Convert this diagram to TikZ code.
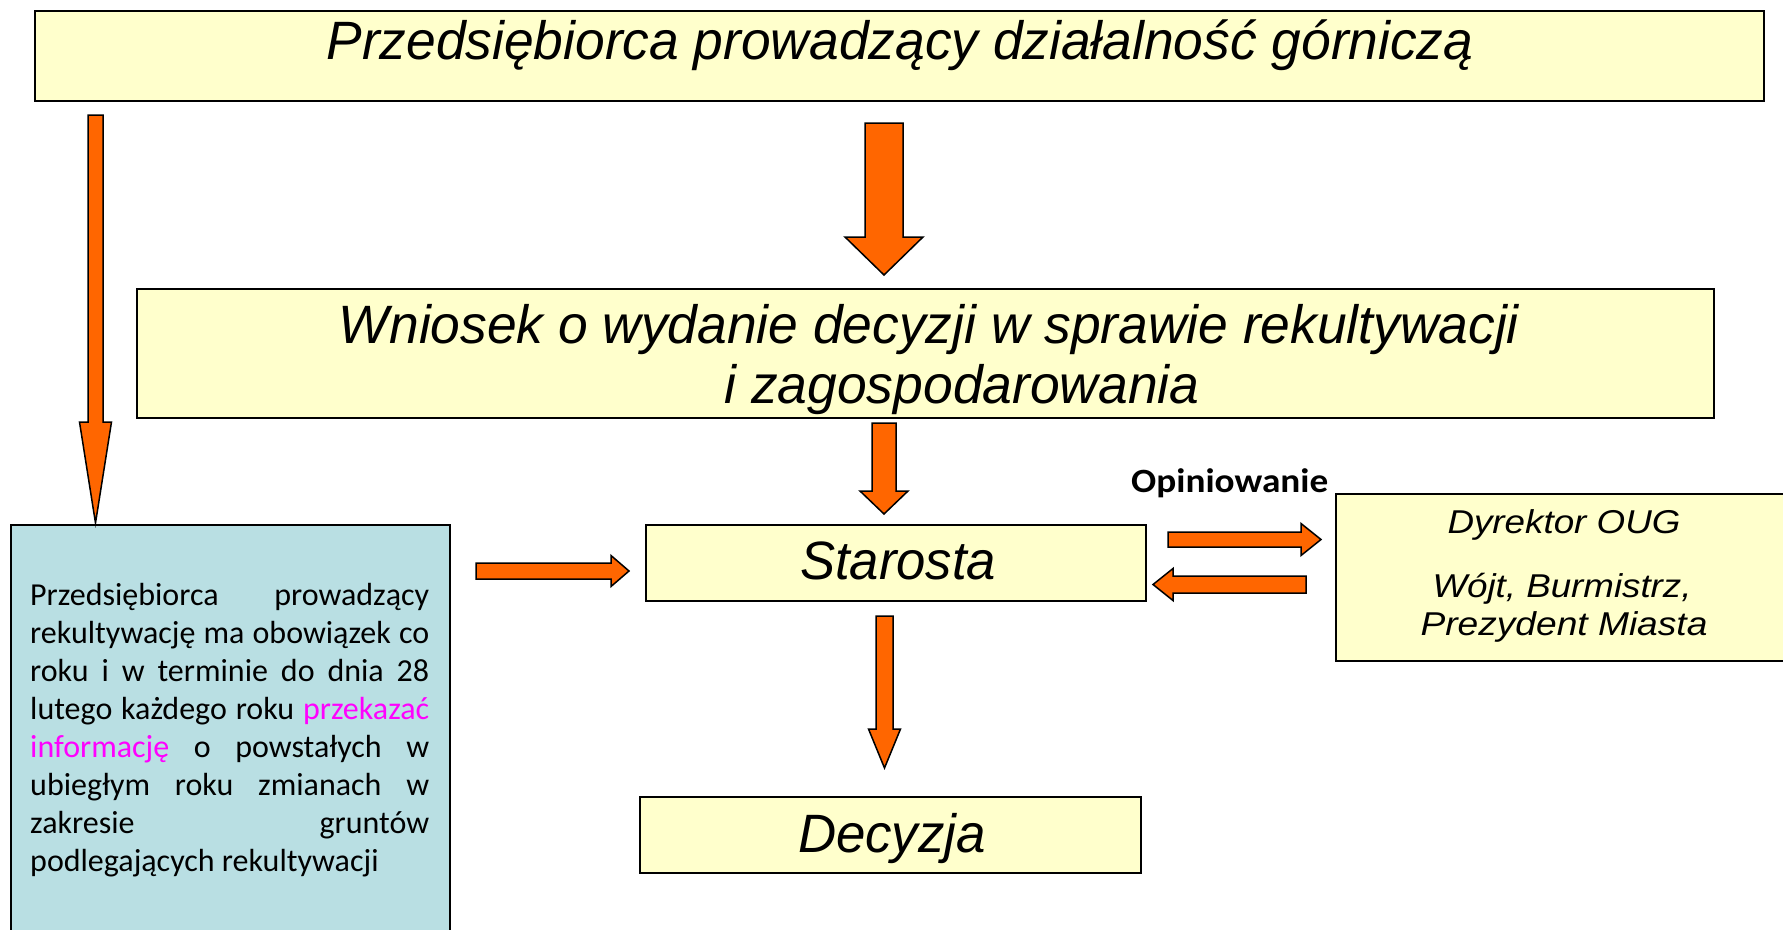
\documentclass[tikz,border=0pt]{standalone}
\usepackage{fontspec}
\setmainfont{Liberation Sans}
\newfontfamily\calib{Carlito}
\usepackage{graphicx}
\definecolor{boxyellow}{RGB}{255,255,204}
\definecolor{arroworange}{RGB}{255,102,0}
\definecolor{infocyan}{RGB}{185,223,227}
\definecolor{hotmagenta}{RGB}{255,0,255}
\newcommand\fitw[2]{\resizebox{#1pt}{\height}{#2}}
\newcommand\blkarrowv[6]{% cx, top, headstart, tip, shaft half, head half
  \draw[blockarrow] (#1-#5,#2) -- (#1+#5,#2) -- (#1+#5,#3) -- (#1+#6,#3) -- (#1,#4) -- (#1-#6,#3) -- (#1-#5,#3) -- cycle;}
\newcommand\blkarrowh[6]{% cy, tail, headbase, tip, shaft half, head half
  \draw[blockarrow] (#2,#1-#5) -- (#3,#1-#5) -- (#3,#1-#6) -- (#4,#1) -- (#3,#1+#6) -- (#3,#1+#5) -- (#2,#1+#5) -- cycle;}
\tikzset{
  ybox/.style={draw=black, line width=2pt, fill=boxyellow, inner sep=0pt, anchor=north west},
  cbox/.style={draw=black, line width=2pt, fill=infocyan, inner sep=0pt, anchor=north west},
  blockarrow/.style={draw=black, line width=1.5pt, fill=arroworange, line join=miter},
  bigtxt/.style={anchor=base, inner sep=0pt, font=\itshape\fontsize{54}{60}\selectfont},
  midtxt/.style={anchor=base, inner sep=0pt, font=\itshape\fontsize{33}{38}\selectfont}
}
\begin{document}
\begin{tikzpicture}[x=1pt,y=-1pt]
\useasboundingbox (0,0) rectangle (1783,929);
\clip (0,0) rectangle (1783,929);
% boxes
\node[ybox, minimum width=1729pt, minimum height=90pt] (top) at (34,10) {};
\node[ybox, minimum width=1577pt, minimum height=129pt] (wniosek) at (136,288) {};
\node[cbox, minimum width=439pt, minimum height=430pt] (info) at (10,524) {};
\node[ybox, minimum width=500pt, minimum height=76pt] (starosta) at (645,524) {};
\node[ybox, minimum width=501pt, minimum height=76pt] (decyzja) at (639,796) {};
\node[ybox, minimum width=470pt, minimum height=167pt] (oug) at (1335,493) {};
% texts
\node[bigtxt] (toptxt) at (900,59) {\fitw{1147}{Przedsiębiorca prowadzący działalność górniczą}};
\node[bigtxt] (wn1) at (929,343) {\fitw{1180}{Wniosek o wydanie decyzji w sprawie rekultywacji}};
\node[bigtxt] (wn2) at (962,403) {\fitw{475}{i zagospodarowania}};
\node[bigtxt] (startxt) at (898,579) {\fitw{196}{Starosta}};
\node[bigtxt] (dectxt) at (892,852) {\fitw{188}{Decyzja}};
\node[midtxt] (oug1) at (1564,533) {\fitw{233}{Dyrektor OUG}};
\node[midtxt] (oug2) at (1562,597) {\fitw{259}{Wójt, Burmistrz,}};
\node[midtxt] (oug3) at (1564,635) {\fitw{287}{Prezydent Miasta}};
\node[anchor=base west, inner sep=0pt, font=\calib\bfseries\fontsize{34}{40}\selectfont] (opin) at (1131,492) {\fitw{197}{Opiniowanie}};
\node[anchor=base west, inner sep=0pt] (infotxt) at (30,605) {\vtop{\hsize=399pt\parindent=0pt\calib\fontsize{32}{38}\selectfont
\makebox[399pt][s]{Przedsiębiorca prowadzący}\par
\makebox[399pt][s]{rekultywację ma obowiązek co}\par
\makebox[399pt][s]{roku i w terminie do dnia 28}\par
\makebox[399pt][s]{lutego każdego roku \textcolor{hotmagenta}{przekazać}}\par
\makebox[399pt][s]{\textcolor{hotmagenta}{informację} o powstałych w}\par
\makebox[399pt][s]{ubiegłym roku zmianach w}\par
\makebox[399pt][s]{zakresie gruntów}\par
podlegających rekultywacji}};
% block arrows
\blkarrowv{884}{123}{237}{275}{19}{39}
\blkarrowv{95.5}{115}{422}{523}{7.5}{16}
\blkarrowv{884}{423}{491}{514}{12}{24}
\blkarrowv{884.5}{616}{729}{768}{8.5}{16}
\blkarrowh{571}{476}{611}{629}{8}{15.5}
\blkarrowh{539.5}{1168}{1301}{1321}{7.5}{16}
\blkarrowh{584.5}{1306}{1173}{1153}{8.5}{16}
\end{tikzpicture}
\end{document}
